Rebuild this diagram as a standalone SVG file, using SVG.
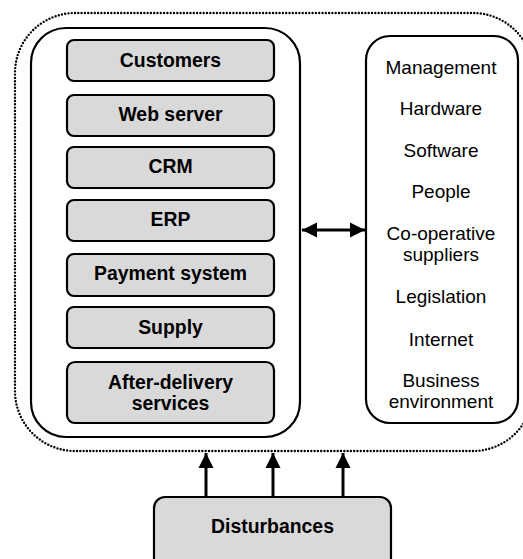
<svg xmlns="http://www.w3.org/2000/svg" width="523" height="559" viewBox="0 0 523 559">
<defs>
<style>
.bx{fill:#d9d9d9;stroke:#000;stroke-width:2.2}
.frame{fill:#fff;stroke:#000;stroke-width:2.2}
.b{font-family:"Liberation Sans",Arial,sans-serif;font-weight:bold;font-size:19.4px;text-anchor:middle;fill:#000}
.r{font-family:"Liberation Sans",Arial,sans-serif;font-size:19px;text-anchor:middle;fill:#000}
.ln{stroke:#000;stroke-width:3;fill:none}
</style>
<marker id="ah" viewBox="0 0 10 10" refX="10" refY="5" markerWidth="5" markerHeight="5.3" orient="auto-start-reverse" markerUnits="strokeWidth">
<path d="M0,0 L10,5 L0,10 z" fill="#000"/>
</marker>
</defs>
<rect width="523" height="559" fill="#fff"/>
<rect id="environment-boundary" x="15" y="13" width="518" height="438" rx="60" fill="none" stroke="#000" stroke-width="2.4" stroke-linecap="round" stroke-dasharray="0 3.3"/>
<g id="system">
<rect class="frame" x="31" y="28" width="269" height="409" rx="35"/>
</g>
<g id="customers"><rect class="bx" x="67" y="40" width="207" height="41" rx="7"/><text class="b" x="170.5" y="67">Customers</text></g>
<g id="web-server"><rect class="bx" x="67" y="95" width="207" height="41" rx="7"/><text class="b" x="170.5" y="121">Web server</text></g>
<g id="crm"><rect class="bx" x="67" y="147" width="207" height="41" rx="7"/><text class="b" x="170.5" y="173">CRM</text></g>
<g id="erp"><rect class="bx" x="67" y="200" width="207" height="41" rx="7"/><text class="b" x="170.5" y="226">ERP</text></g>
<g id="payment-system"><rect class="bx" x="67" y="254" width="207" height="42" rx="7"/><text class="b" x="170.5" y="280">Payment system</text></g>
<g id="supply"><rect class="bx" x="67" y="307" width="207" height="41" rx="7"/><text class="b" x="170.5" y="334">Supply</text></g>
<g id="after-delivery"><rect class="bx" x="67" y="362" width="207" height="61" rx="8"/><text class="b" x="170.5" y="389">After-delivery</text><text class="b" x="170.5" y="410">services</text></g>
<g id="environment">
<rect class="frame" x="366" y="36" width="152" height="387" rx="24"/>
<text class="r" x="441" y="74">Management</text>
<text class="r" x="441" y="115">Hardware</text>
<text class="r" x="441" y="157">Software</text>
<text class="r" x="441" y="198">People</text>
<text class="r" x="441" y="240">Co-operative</text>
<text class="r" x="441" y="261">suppliers</text>
<text class="r" x="441" y="303">Legislation</text>
<text class="r" x="441" y="346">Internet</text>
<text class="r" x="441" y="387">Business</text>
<text class="r" x="441" y="408">environment</text>
</g>
<g id="disturbances"><rect class="bx" x="154" y="497" width="237" height="80" rx="11"/><text class="b" x="272.5" y="533">Disturbances</text></g>
<g id="connectors">
<path class="ln" d="M302,230 H365" marker-start="url(#ah)" marker-end="url(#ah)"/>
<path class="ln" d="M206,497 V453" marker-end="url(#ah)"/>
<path class="ln" d="M273,497 V453" marker-end="url(#ah)"/>
<path class="ln" d="M343,497 V453" marker-end="url(#ah)"/>
</g>
</svg>
